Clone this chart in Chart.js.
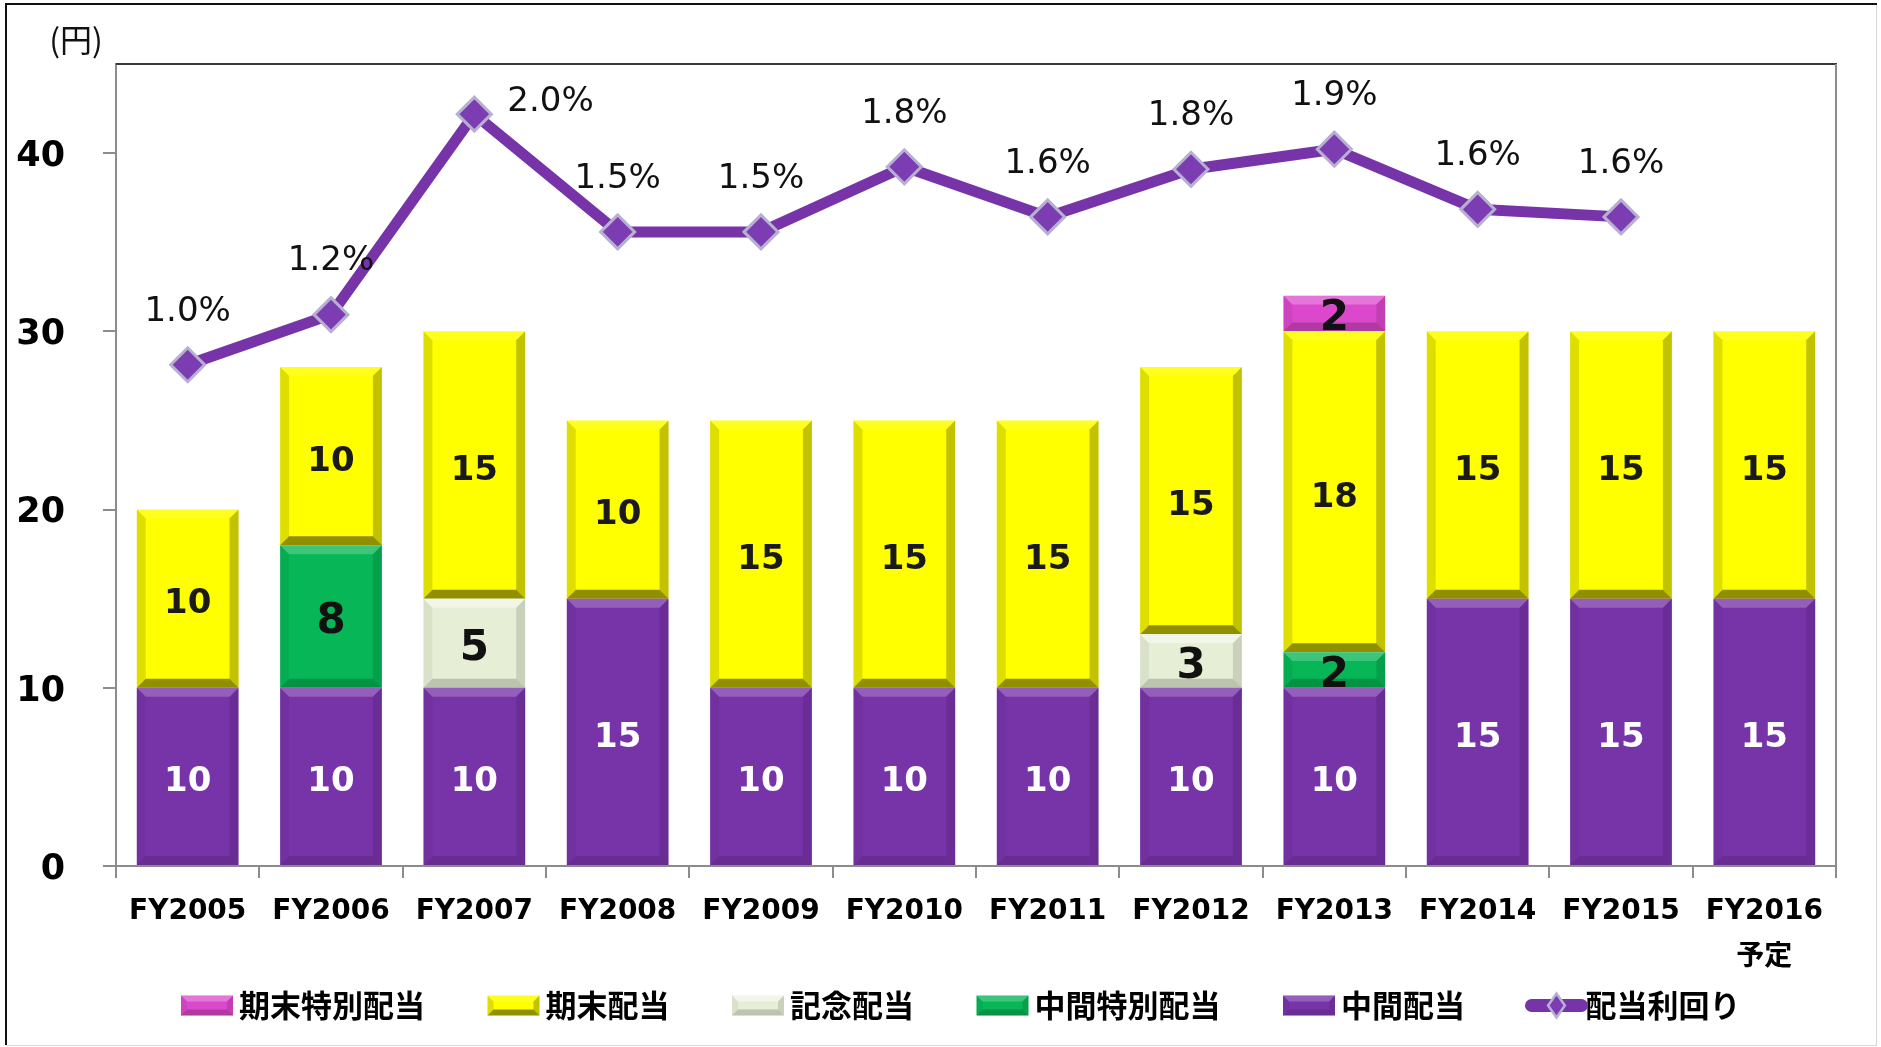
<!DOCTYPE html>
<html lang="ja">
<head>
<meta charset="utf-8">
<title>配当推移</title>
<script src="https://cdn.jsdelivr.net/npm/chart.js@4.4.0/dist/chart.umd.min.js"></script>
<style>
  html, body { margin: 0; padding: 0; background: #fff; }
  #wrap { position: relative; width: 1881px; height: 1047px; }
</style>
</head>
<body>
<div id="wrap"><canvas id="dividendChart" width="1881" height="1047"></canvas></div>
<script>
// --- data ---
const fiscalYears = ['FY2005', 'FY2006', 'FY2007', 'FY2008', 'FY2009', 'FY2010',
  'FY2011', 'FY2012', 'FY2013', 'FY2014', 'FY2015', ['FY2016', '予定']];
const interimDividend   = [10, 10, 10, 15, 10, 10, 10, 10, 10, 15, 15, 15]; // 中間配当
const interimSpecial    = [0, 8, 0, 0, 0, 0, 0, 0, 2, 0, 0, 0];             // 中間特別配当
const memorialDividend  = [0, 0, 5, 0, 0, 0, 0, 3, 0, 0, 0, 0];             // 記念配当
const yearEndDividend   = [10, 10, 15, 10, 15, 15, 15, 15, 18, 15, 15, 15]; // 期末配当
const yearEndSpecial    = [0, 0, 0, 0, 0, 0, 0, 0, 2, 0, 0, 0];             // 期末特別配当
const dividendYield     = [1.0, 1.2, 2.0, 1.53, 1.53, 1.79, 1.59, 1.78, 1.86, 1.62, 1.59, null]; // 配当利回り(%)
const yenTicks = [0, 10, 20, 30, 40];

const PURPLE = '#7733a8';
const NUM_FONT = "'DejaVu Sans', 'Noto Sans CJK JP', sans-serif";
const JP_FONT = "'Noto Sans CJK JP', 'DejaVu Sans', sans-serif";
const LEGEND_BOX = 83;    // box slot; the visible swatch sits at its right end
const LEGEND_PAD = 22;
const LEGEND_H = 79;

// bevel shading on a rectangle
function shadeRect(ctx, l, t, r, b, size, s) {
  const quad = (pts, color) => {
    ctx.beginPath();
    ctx.moveTo(pts[0][0], pts[0][1]);
    for (let k = 1; k < pts.length; k++) ctx.lineTo(pts[k][0], pts[k][1]);
    ctx.closePath();
    ctx.fillStyle = color;
    ctx.fill();
  };
  quad([[l, t], [r, t], [r - size, t + size], [l + size, t + size]], `rgba(255,255,255,${s.top})`);
  quad([[l, t], [l + size, t + size], [l + size, b - size], [l, b]], `rgba(0,0,0,${s.left})`);
  quad([[r, t], [r, b], [r - size, b - size], [r - size, t + size]], `rgba(0,0,0,${s.right})`);
  quad([[l, b], [r, b], [r - size, b - size], [l + size, b - size]], `rgba(0,0,0,${s.bottom})`);
}

// --- plugins ---
const framePlugin = {
  id: 'frame',
  afterInit(chart) {
    // fixed legend height so the layout is predictable
    const lg = chart.legend;
    if (!lg) return;
    const fit = lg.fit.bind(lg);
    lg.fit = function () { fit(); this.height = LEGEND_H; };
  },
  beforeDraw(chart) {
    const ctx = chart.ctx;
    ctx.save();
    ctx.fillStyle = '#fff';
    ctx.fillRect(0, 0, chart.width, chart.height);
    ctx.fillStyle = '#d8d8d8';
    ctx.fillRect(chart.width - 5, 4, 1, chart.height - 6);
    ctx.fillRect(6, chart.height - 2, chart.width - 10, 1);
    ctx.fillStyle = '#111';
    ctx.fillRect(5, 3, chart.width - 9, 2);
    ctx.fillRect(5, 3, 2, chart.height - 5);
    // unit label
    ctx.font = `32px ${JP_FONT}`;
    ctx.textAlign = 'center';
    ctx.textBaseline = 'middle';
    ctx.fillText('(円)', chart.chartArea.left - 40, chart.chartArea.top - 24);
    ctx.restore();
  },
  afterDraw(chart) {
    const ctx = chart.ctx;
    const a = chart.chartArea;
    ctx.save();
    ctx.fillStyle = '#3a3a3a';
    ctx.fillRect(a.left, a.top - 1, a.right - a.left + 1, 2);
    ctx.fillStyle = '#8c8c8c';
    ctx.fillRect(a.right - 1, a.top, 2, a.bottom - a.top);
    ctx.restore();
  }
};

const bevelPlugin = {
  id: 'bevel',
  afterDatasetDraw(chart, args) {
    const meta = args.meta;
    if (meta.type !== 'bar') return;
    const ds = chart.data.datasets[args.index];
    const ctx = chart.ctx;
    ctx.save();
    meta.data.forEach((bar, i) => {
      if (!ds.data[i]) return;
      const p = bar.getProps(['x', 'y', 'base', 'width'], true);
      const l = p.x - p.width / 2, r = p.x + p.width / 2;
      const t = Math.min(p.y, p.base), b = Math.max(p.y, p.base);
      const size = Math.min(9, (b - t) / 4);
      shadeRect(ctx, l, t, r, b, size, ds.bevel);
    });
    ctx.restore();
  }
};

const labelPlugin = {
  id: 'valueLabels',
  afterDatasetsDraw(chart) {
    const ctx = chart.ctx;
    const area = chart.chartArea;
    ctx.save();
    chart.data.datasets.forEach((ds, di) => {
      const meta = chart.getDatasetMeta(di);
      if (meta.type === 'bar') {
        ctx.font = `bold ${ds.labelSize}px ${NUM_FONT}`;
        ctx.textAlign = 'center';
        ctx.textBaseline = 'middle';
        ctx.fillStyle = ds.labelColor;
        meta.data.forEach((bar, i) => {
          const v = ds.data[i];
          if (!v) return;
          ctx.fillText(String(v), bar.x, (bar.y + bar.base) / 2 + 6);
        });
      } else {
        ctx.font = `34px ${NUM_FONT}`;
        ctx.fillStyle = '#111';
        ctx.textBaseline = 'middle';
        meta.data.forEach((pt, i) => {
          const v = ds.data[i];
          if (v == null) return;
          const txt = v.toFixed(1) + '%';
          if (pt.y - 74 < area.top) {
            ctx.textAlign = 'left';
            ctx.fillText(txt, pt.x + 33, pt.y - 12);
          } else {
            ctx.textAlign = 'center';
            ctx.fillText(txt, pt.x, pt.y - 53);
          }
        });
      }
    });
    ctx.restore();
  }
};

const legendIconPlugin = {
  id: 'legendIcons',
  afterDraw(chart) {
    const legend = chart.legend;
    if (!legend || !legend.legendHitBoxes) return;
    const ctx = chart.ctx;
    ctx.save();
    legend.legendItems.forEach((item, i) => {
      const hb = legend.legendHitBoxes[i];
      const ds = chart.data.datasets[item.datasetIndex];
      const cy = hb.top + hb.height / 2;
      const l = hb.left + LEGEND_BOX - 42.5;
      const w = 52;
      if (ds.type === 'line') {
        ctx.strokeStyle = ds.borderColor;
        ctx.lineWidth = 13;
        ctx.lineCap = 'round';
        ctx.beginPath();
        ctx.moveTo(l + 4, cy);
        ctx.lineTo(l + w + 2, cy);
        ctx.stroke();
        const cx = l + w / 2 + 3, rr = 12;
        ctx.beginPath();
        ctx.moveTo(cx - rr * 0.7, cy);
        ctx.lineTo(cx, cy - rr);
        ctx.lineTo(cx + rr * 0.7, cy);
        ctx.lineTo(cx, cy + rr);
        ctx.closePath();
        ctx.fillStyle = ds.pointBackgroundColor;
        ctx.fill();
        ctx.lineWidth = 2.5;
        ctx.strokeStyle = ds.pointBorderColor;
        ctx.stroke();
      } else {
        const h = 20;
        ctx.fillStyle = ds.backgroundColor;
        ctx.fillRect(l, cy - h / 2, w, h);
        shadeRect(ctx, l, cy - h / 2, l + w, cy + h / 2, 6, ds.bevel);
      }
    });
    ctx.restore();
  }
};

// --- chart ---
function barSet(label, data, color, labelColor, labelSize, bevel) {
  return {
    type: 'bar', label, data, backgroundColor: color, labelColor, labelSize, bevel,
    order: 1, yAxisID: 'y', barPercentage: 0.71, categoryPercentage: 1,
    borderWidth: 0
  };
}

new Chart(document.getElementById('dividendChart'), {
  data: {
    labels: fiscalYears,
    datasets: [
      {
        type: 'line', label: '配当利回り', data: dividendYield, yAxisID: 'y2', order: 0,
        borderColor: PURPLE, borderWidth: 11, borderJoinStyle: 'round',
        pointStyle: 'rectRot', pointRadius: 17, pointHoverRadius: 17,
        pointBackgroundColor: '#7d3db2', pointBorderColor: '#b8b0d2', pointBorderWidth: 3,
        spanGaps: false
      },
      barSet('中間配当', interimDividend, PURPLE, '#fff', 34, {top: 0.22, left: 0.04, right: 0.1, bottom: 0.12}),
      barSet('中間特別配当', interimSpecial, '#07b757', '#111', 42, {top: 0.22, left: 0.06, right: 0.12, bottom: 0.2}),
      barSet('記念配当', memorialDividend, '#e6eed5', '#111', 42, {top: 0.45, left: 0.05, right: 0.12, bottom: 0.18}),
      barSet('期末配当', yearEndDividend, '#ffff00', '#1a1a1a', 34, {top: 0.12, left: 0.13, right: 0.24, bottom: 0.44}),
      barSet('期末特別配当', yearEndSpecial, '#dc48cc', '#111', 42, {top: 0.25, left: 0.06, right: 0.12, bottom: 0.2})
    ]
  },
  options: {
    responsive: false,
    animation: false,
    layout: { padding: { left: 0, top: 64, right: 0, bottom: 0 } },
    plugins: {
      tooltip: { enabled: false },
      legend: {
        position: 'bottom',
        reverse: true,
        labels: {
          boxWidth: LEGEND_BOX,
          boxHeight: 20,
          padding: LEGEND_PAD,
          color: '#000',
          font: { family: JP_FONT, size: 31, weight: 'bold' },
          generateLabels(chart) {
            const items = Chart.defaults.plugins.legend.labels.generateLabels(chart);
            items.forEach(it => {
              it.fillStyle = 'rgba(0,0,0,0)';
              it.strokeStyle = 'rgba(0,0,0,0)';
              it.lineWidth = 0;
            });
            return items;
          }
        }
      }
    },
    scales: {
      x: {
        stacked: true,
        offset: true,
        grid: { offset: true, drawOnChartArea: false, tickLength: 12, color: '#8c8c8c', lineWidth: 2 },
        border: { color: '#8c8c8c', width: 2 },
        ticks: {
          color: '#000', padding: 10.5, maxRotation: 0, autoSkip: false,
          font: { family: NUM_FONT, size: 28, weight: 'bold', lineHeight: 1.64 }
        },
        afterFit(s) { s.height = 102; }
      },
      y: {
        stacked: true,
        min: 0,
        max: 45,
        grid: { drawOnChartArea: false, tickLength: 13, color: '#8c8c8c', lineWidth: 2 },
        border: { color: '#8c8c8c', width: 2 },
        ticks: {
          color: '#000', padding: 38,
          font: { family: NUM_FONT, size: 35, weight: 'bold', lineHeight: 0.22 },
          // empty first line nudges the number a few px down, like the original
          callback: v => ['', String(v)]
        },
        afterBuildTicks(s) { s.ticks = yenTicks.map(v => ({ value: v })); },
        afterFit(s) { s.width = 116; }
      },
      // yield axis: not shown, only keeps the right margin of the plot
      y2: {
        position: 'right',
        min: -1,
        max: 2.2,
        ticks: { display: false },
        grid: { display: false },
        border: { display: false },
        afterFit(s) { s.width = 45; }
      }
    }
  },
  plugins: [framePlugin, bevelPlugin, labelPlugin, legendIconPlugin]
});
</script>
</body>
</html>
